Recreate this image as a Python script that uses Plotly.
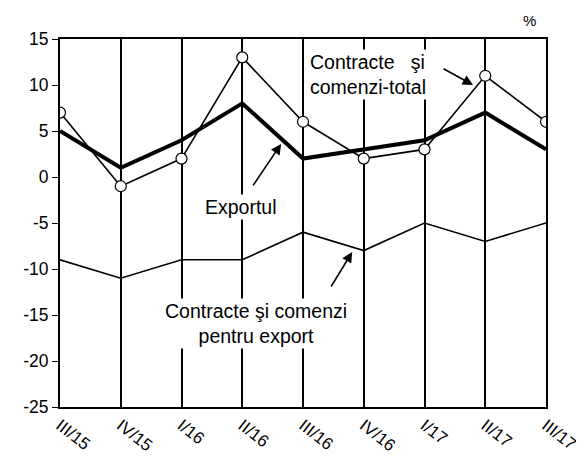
import plotly.graph_objects as go

categories = ["III/15", "IV/15", "I/16", "II/16", "III/16", "IV/16", "I/17", "II/17", "III/17"]
total_orders = [7, -1, 2, 13, 6, 2, 3, 11, 6]
exports = [5, 1, 4, 8, 2, 3, 4, 7, 3]
export_orders = [-9, -11, -9, -9, -6, -8, -5, -7, -5]
y_ticks = [15, 10, 5, 0, -5, -10, -15, -20, -25]
y_labels = ["15", "10", "5", "0", "-5", "-10", "-15", "-20", "-25"]

FONT = "Liberation Sans, Arial, sans-serif"
xs = list(range(len(categories)))

fig = go.Figure()
fig.add_trace(go.Scatter(x=xs, y=export_orders, mode="lines",
                         line=dict(color="black", width=1.6), showlegend=False))
fig.add_trace(go.Scatter(x=xs, y=exports, mode="lines",
                         line=dict(color="black", width=4), showlegend=False))
fig.add_trace(go.Scatter(x=xs, y=total_orders, mode="lines+markers",
                         line=dict(color="black", width=1.6),
                         marker=dict(size=11, color="white", line=dict(color="black", width=1.2)),
                         showlegend=False))

fig.update_xaxes(range=[0, 8], tickmode="array", tickvals=xs, ticktext=categories,
                 tickangle=38, showgrid=True, gridcolor="black", gridwidth=2,
                 showline=True, linecolor="black", linewidth=2, mirror=True,
                 ticks="", zeroline=False, automargin=False, ticklabeloverflow="allow",
                 tickfont=dict(family=FONT, size=17, color="black"))
fig.update_yaxes(range=[-25, 15], tickmode="array", tickvals=y_ticks, ticktext=y_labels,
                 showgrid=False, showline=True, linecolor="black", linewidth=2, mirror=True,
                 ticks="outside", ticklen=6, tickwidth=1, tickcolor="black", zeroline=False,
                 automargin=False,
                 tickfont=dict(family=FONT, size=17.5, color="black"))

txt = dict(family=FONT, size=19.5, color="black")
fig.add_annotation(x=4.08, y=11.1, xref="x", yref="y", text="Contracte   şi<br>comenzi-total",
                   showarrow=False, xanchor="left", align="left", font=txt,
                   bgcolor="white", borderpad=1)
fig.add_annotation(x=2.98, y=-3.3, xref="x", yref="y", text="Exportul",
                   showarrow=False, font=txt, bgcolor="white")
fig.add_annotation(x=3.23, y=-15.9, xref="x", yref="y", text="Contracte şi comenzi<br>pentru export",
                   showarrow=False, font=txt, bgcolor="white", borderpad=1)
fig.add_annotation(x=(529 - 60) / 486, y=1 + (39 - 20) / 368, xref="paper", yref="paper", text="%",
                   showarrow=False, xanchor="center", yanchor="middle",
                   font=dict(family=FONT, size=15, color="black"))

arrow = dict(showarrow=True, arrowhead=2, arrowsize=1.3, arrowwidth=1.6, arrowcolor="black", text="",
             xref="x", yref="y", axref="pixel", ayref="pixel")
fig.add_annotation(x=6.80, y=10.0, ax=-31, ay=-17, **arrow)
fig.add_annotation(x=3.64, y=3.6, ax=-29, ay=43, **arrow)
fig.add_annotation(x=4.81, y=-8.15, ax=-22, ay=36, **arrow)

fig.update_layout(width=576, height=450, margin=dict(l=52, r=38, t=31, b=51),
                  plot_bgcolor="white", paper_bgcolor="white",
                  font=dict(family=FONT, color="black"))
fig.write_html("out.html")
